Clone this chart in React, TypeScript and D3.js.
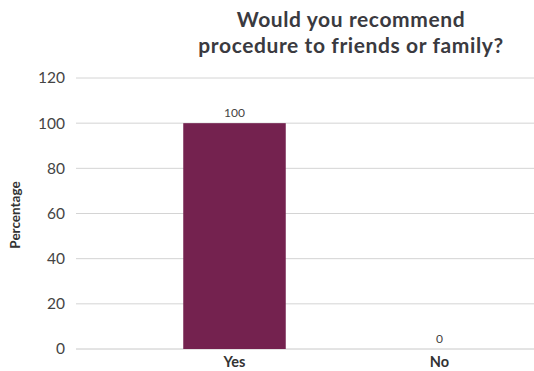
import React from "react";
import * as d3 from "d3";

const categories = ["Yes", "No"];
const values = [100, 0];
const yTicks = [0, 20, 40, 60, 80, 100, 120];
const titleLines = ["Would you recommend", "procedure to friends or family?"];
const yLabel = "Percentage";

const W = 534;
const H = 371;
const FONT = "Lato, 'Open Sans', sans-serif";

export default function App() {
  const y = d3.scaleLinear().domain([0, 120]).range([349, 78]);
  const x = d3.scaleBand<string>().domain(categories).range([132, 542]).paddingInner(0.5).paddingOuter(0.25);
  const gridX0 = 76;
  const gridX1 = 534;
  return (
    <svg width={W} height={H} style={{ position: "absolute", left: 0, top: 0, background: "#fff" }} fontFamily={FONT}>
      {titleLines.map((t, i) => (
        <text key={i} x={351} y={27 + i * 26} textAnchor="middle" fontSize={21} letterSpacing={0.6} fontWeight={700} fill="#3a3a40">
          {t}
        </text>
      ))}
      {yTicks.map((t) => (
        <g key={t}>
          <line x1={gridX0} x2={gridX1} y1={y(t)} y2={y(t)} stroke={t === 0 ? "#c8c8c8" : "#d4d4d4"} strokeWidth={1} />
          <text x={65} y={y(t)} dy="0.35em" textAnchor="end" fontSize={15.5} fill="#444">
            {t}
          </text>
        </g>
      ))}
      <text transform={`translate(20,${215}) rotate(-90)`} textAnchor="middle" fontSize={13.5} fontWeight={700} fill="#333">
        {yLabel}
      </text>
      {categories.map((c, i) => {
        const bx = x(c) as number;
        const bw = x.bandwidth();
        return (
          <g key={c}>
            <rect x={bx} y={y(values[i])} width={bw} height={y(0) - y(values[i])} fill="#74224f" />
            <text x={bx + bw / 2} y={y(values[i]) - 6} textAnchor="middle" fontSize={12} fill="#444">
              {values[i]}
            </text>
            <text x={bx + bw / 2} y={367} textAnchor="middle" fontSize={14.5} fontWeight={700} fill="#333">
              {c}
            </text>
          </g>
        );
      })}
    </svg>
  );
}
